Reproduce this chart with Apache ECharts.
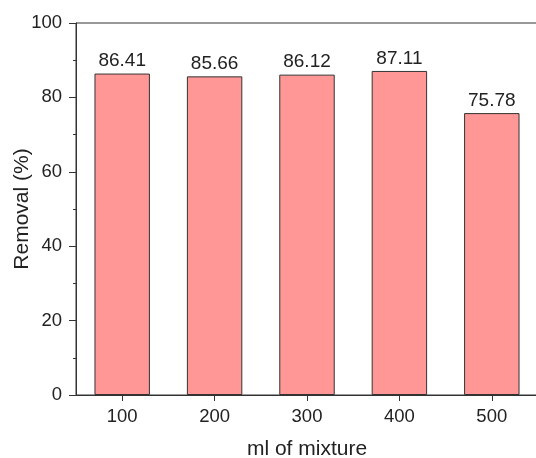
<!DOCTYPE html>
<html>
<head>
<meta charset="utf-8">
<script src="https://cdn.jsdelivr.net/npm/echarts@6/dist/echarts.min.js"></script>
<style>
html,body{margin:0;padding:0;background:#fff;}
#chart{width:536px;height:458px;}
</style>
</head>
<body>
<div id="chart"></div>
<script>
const categories = ['100', '200', '300', '400', '500'];
const removal = [86.41, 85.66, 86.12, 87.11, 75.78];
const xAxisName = 'ml of mixture';
const yAxisName = 'Removal (%)';

const FONT = "'Liberation Sans', Arial, sans-serif";
const AX = '#333';
const chart = echarts.init(document.getElementById('chart'), null, {renderer: 'canvas'});
chart.setOption({
  animation: false,
  backgroundColor: '#fff',
  grid: {left: 76, top: 23, width: 462, bottom: 63, containLabel: false, outerBoundsMode: 'none',
         show: true, borderColor: AX, borderWidth: 1, backgroundColor: 'transparent'},
  xAxis: {
    type: 'category',
    data: categories,
    name: xAxisName,
    nameLocation: 'middle',
    nameGap: 44,
    nameMoveOverlap: false,
    nameTextStyle: {fontFamily: FONT, fontSize: 21, color: '#222'},
    axisLine: {lineStyle: {color: AX, width: 1}},
    axisTick: {show: true, alignWithLabel: true, length: 6, lineStyle: {color: AX}},
    axisLabel: {fontFamily: FONT, fontSize: 18.5, color: '#222', margin: 12},
    splitLine: {show: false}
  },
  yAxis: {
    type: 'value',
    min: 0, max: 100, interval: 20,
    name: yAxisName,
    nameLocation: 'middle',
    nameGap: 43,
    nameRotate: 90,
    nameMoveOverlap: false,
    nameTextStyle: {fontFamily: FONT, fontSize: 21, color: '#222'},
    axisLine: {show: true, lineStyle: {color: AX, width: 1}},
    axisTick: {show: true, length: 7, lineStyle: {color: AX}},
    minorTick: {show: true, splitNumber: 2, length: 3, lineStyle: {color: AX}},
    axisLabel: {fontFamily: FONT, fontSize: 18.5, color: '#222', margin: 14},
    splitLine: {show: false},
    minorSplitLine: {show: false}
  },
  series: [{
    type: 'bar',
    data: removal,
    barWidth: '60%',
    itemStyle: {color: '#FF9797', borderColor: '#333', borderWidth: 1},
    label: {
      show: true, position: 'top', distance: 3,
      fontFamily: FONT, fontSize: 19, color: '#222',
      formatter: p => p.value.toFixed(2)
    }
  }]
});
</script>
</body>
</html>
